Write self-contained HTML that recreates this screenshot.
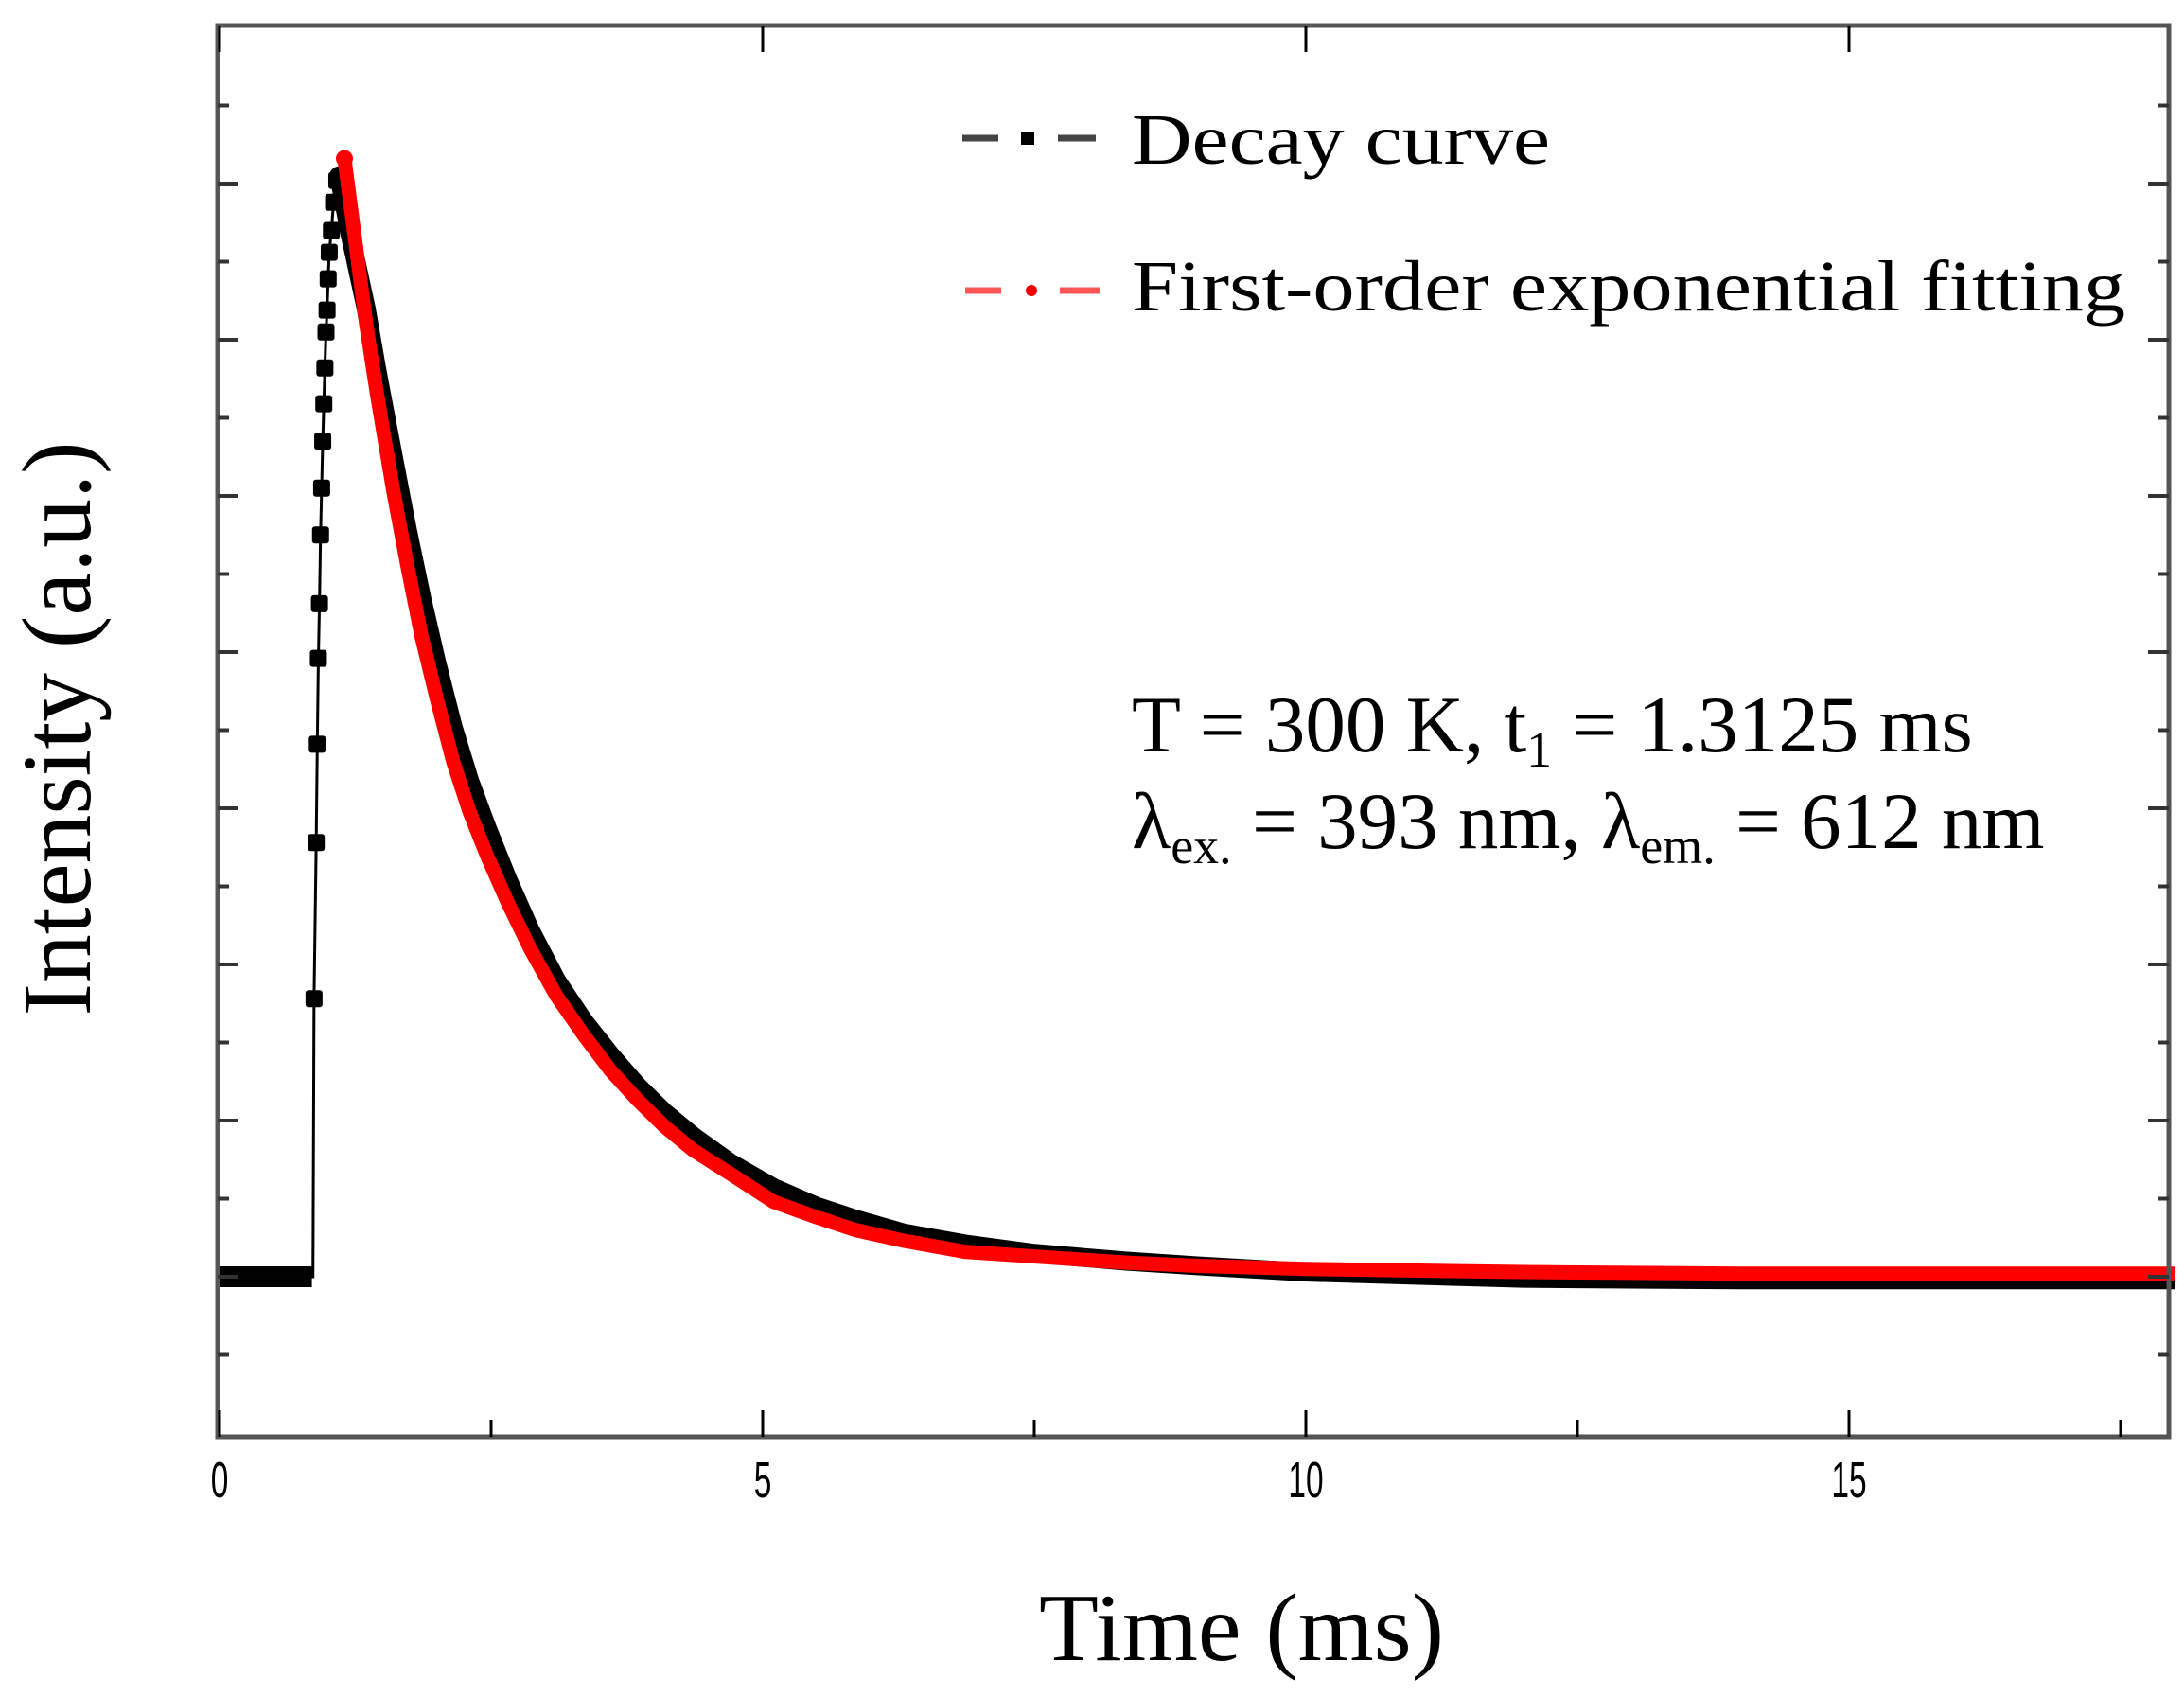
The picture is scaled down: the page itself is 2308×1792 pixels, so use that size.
<!DOCTYPE html>
<html><head><meta charset="utf-8"><style>
html,body{margin:0;padding:0;background:#fff;}
svg{display:block;}
text{font-family:"Liberation Serif",serif;fill:#000;}
</style></head><body>
<svg id="chart" width="2308" height="1792" viewBox="0 0 2308 1792" xmlns="http://www.w3.org/2000/svg">
<rect x="0" y="0" width="2308" height="1792" fill="#fff"/>
<g id="plot"></g>
<g id="axes"></g>
<g>
  <g>
    <line x1="1017" y1="146" x2="1055" y2="146" stroke="#444" stroke-width="7"/>
    <line x1="1118" y1="146" x2="1158" y2="146" stroke="#444" stroke-width="7"/>
    <rect x="1079" y="139" width="14" height="14" fill="#000"/>
    <text x="1196" y="173" font-size="76" textLength="442" lengthAdjust="spacingAndGlyphs">Decay curve</text>
  </g>
  <g>
    <line x1="1020" y1="307" x2="1058" y2="307" stroke="#f55" stroke-width="7"/>
    <line x1="1120" y1="307" x2="1162" y2="307" stroke="#f55" stroke-width="7"/>
    <circle cx="1090" cy="307" r="6" fill="#e00"/>
    <text x="1196" y="328" font-size="76" textLength="1050" lengthAdjust="spacingAndGlyphs">First-order exponential fitting</text>
  </g>
</g>
<g>
  <text x="1196" y="794" font-size="85">T = 300 K, t<tspan font-size="54" dy="16">1</tspan><tspan dy="-16"> = 1.3125 ms</tspan></text>
  <text x="1196" y="896" font-size="85">λ<tspan font-size="54" dy="16">ex.</tspan><tspan dy="-16"> = 393 nm, λ</tspan><tspan font-size="54" dy="16">em.</tspan><tspan dy="-16"> = 612 nm</tspan></text>
</g>
<text x="1312" y="1754" font-size="102" text-anchor="middle" textLength="428" lengthAdjust="spacingAndGlyphs">Time (ms)</text>
<text transform="translate(95,770) rotate(-90)" font-size="104" text-anchor="middle" textLength="607" lengthAdjust="spacingAndGlyphs">Intensity (a.u.)</text>
</svg>
<script>
// ---- data ----
const xTicks = [0, 5, 10, 15];
const xTickLabels = ["0", "5", "10", "15"];
const xMinorTicks = [2.5, 7.5, 12.5, 17.5];
const yTicks = [-100, 0, 100, 200, 300, 400, 500, 600, 700, 800];
const yMinorTicks = [-50, 50, 150, 250, 350, 450, 550, 650, 750];
// decay curve (black) — flat region, rise, decay
const flatTimes = [0.0, 0.1, 0.2, 0.3, 0.4, 0.5, 0.6, 0.7, 0.8, 0.85];
const flatValues = [0, 0, 0, 0, 0, 0, 0, 0, 0, 0];
const riseTimes = [0.86, 0.87, 0.89, 0.9, 0.91, 0.92, 0.93, 0.94, 0.95, 0.96, 0.97, 0.98, 0.99, 1.0, 1.01, 1.03, 1.05, 1.08];
const riseValues = [0, 178, 278, 341, 396, 431, 475, 505, 535, 559, 582, 605, 619, 639, 656, 670, 688, 702];
const decayTimes = [1.1, 1.2, 1.35, 1.45, 1.6, 1.73, 1.86, 2.0, 2.15, 2.3, 2.46, 2.65, 2.86, 3.1, 3.35, 3.6, 3.85, 4.1, 4.36, 4.7, 5.1, 5.5, 5.85, 6.3, 6.86, 7.5, 8.35, 9, 10, 12, 14, 16, 18];
const decayValues = [705, 668, 620, 580, 525, 478, 435, 393, 352, 318, 288, 255, 222, 190, 164, 142, 122, 105, 90, 73, 57, 45, 37, 28, 21, 15, 10, 7, 3, -1, -2, -2, -2];
// exponential fit (red)
const fitTimes = [1.15, 1.35, 1.45, 1.6, 1.73, 1.86, 2.0, 2.15, 2.3, 2.46, 2.65, 2.86, 3.1, 3.35, 3.6, 3.85, 4.1, 4.36, 4.7, 5.1, 5.5, 5.85, 6.3, 6.86, 7.5, 8.35, 9, 10, 12, 14, 16, 18];
const fitValues = [716, 610, 565, 503, 455, 410, 370, 330, 298, 270, 240, 210, 180, 155, 132, 113, 96, 81, 66, 48, 38, 30, 23, 16, 13, 9, 7, 5, 3, 2, 2, 2];

// ---- scales ----
const X0 = 232, PXX = 114.8;
const Y0 = 1349, PXY = 1.65;
const xs = t => X0 + t * PXX;
const ys = v => Y0 - v * PXY;
const L = 230, R = 2292, T = 27, B = 1518;
const NS = "http://www.w3.org/2000/svg";
function mk(tag, attrs, parent) {
  const e = document.createElementNS(NS, tag);
  for (const k in attrs) e.setAttribute(k, attrs[k]);
  parent.appendChild(e);
  return e;
}
const plot = document.getElementById('plot');
const axes = document.getElementById('axes');

// black decay series
const pts = [];
flatTimes.forEach((t, i) => pts.push([xs(t), ys(flatValues[i])]));
riseTimes.forEach((t, i) => pts.push([xs(t), ys(riseValues[i])]));
const decLine = mk('polyline', {points: pts.map(p => p.join(',')).join(' '), fill: 'none', stroke: '#000', 'stroke-width': 3}, plot);


const flatBand = mk('polyline', {points: flatTimes.map((t, i) => xs(t) + ',' + ys(flatValues[i])).join(' '), fill: 'none', stroke: '#000', 'stroke-width': 22}, plot);


riseTimes.slice(1).forEach((t, i) => {
  const r = mk('rect', {x: xs(t) - 9, y: ys(riseValues[i + 1]) - 9, width: 18, height: 18, rx: 3, fill: '#000'}, plot);
  
  
});
const dPts = [[xs(riseTimes[riseTimes.length - 1]), ys(riseValues[riseValues.length - 1])]];
decayTimes.forEach((t, i) => dPts.push([xs(t), ys(decayValues[i])]));
const decBand = mk('polyline', {points: dPts.map(p => p.join(',')).join(' '), fill: 'none', stroke: '#000', 'stroke-width': 20, 'stroke-linejoin': 'round'}, plot);



// red fit
const fit = mk('polyline', {points: fitTimes.map((t, i) => xs(t) + ',' + ys(fitValues[i])).join(' '), fill: 'none', stroke: '#f00', 'stroke-width': 15, 'stroke-linejoin': 'round'}, plot);


const pk = mk('circle', {cx: xs(fitTimes[0]), cy: ys(fitValues[0]), r: 9, fill: '#f00'}, plot);



// frame
const frame = mk('rect', {x: L, y: T, width: R - L, height: B - T, fill: 'none', stroke: '#555', 'stroke-width': 5}, axes);



// x ticks
xTicks.forEach((t, i) => {
  const x = xs(t);
  const a = mk('line', {x1: x, y1: B, x2: x, y2: B - 28, stroke: '#000', 'stroke-width': 3}, axes);
  
  
  const b = mk('line', {x1: x, y1: T, x2: x, y2: T + 28, stroke: '#000', 'stroke-width': 3}, axes);
  
  
  const lb = mk('text', {transform: 'translate(' + x + ',1582) scale(0.62,1)', 'font-size': 54, 'text-anchor': 'middle', style: 'font-family:"Liberation Sans",sans-serif'}, axes);
  lb.textContent = xTickLabels[i];
  
  
});
xMinorTicks.forEach(t => {
  const x = xs(t);
  const a = mk('line', {x1: x, y1: B, x2: x, y2: B - 18, stroke: '#000', 'stroke-width': 3}, axes);
  
  
});
// y ticks
yTicks.forEach(v => {
  const y = ys(v);
  if (y < T + 5 || y > B - 5) return;
  const a = mk('line', {x1: L, y1: y, x2: L + 22, y2: y, stroke: '#333', 'stroke-width': 4}, axes);
  
  
  const b = mk('line', {x1: R, y1: y, x2: R - 22, y2: y, stroke: '#333', 'stroke-width': 4}, axes);
  
  
});
yMinorTicks.forEach(v => {
  const y = ys(v);
  const a = mk('line', {x1: L, y1: y, x2: L + 12, y2: y, stroke: '#333', 'stroke-width': 4}, axes);
  
  
  const b = mk('line', {x1: R, y1: y, x2: R - 12, y2: y, stroke: '#333', 'stroke-width': 4}, axes);
  
  
});
</script>
</body></html>
